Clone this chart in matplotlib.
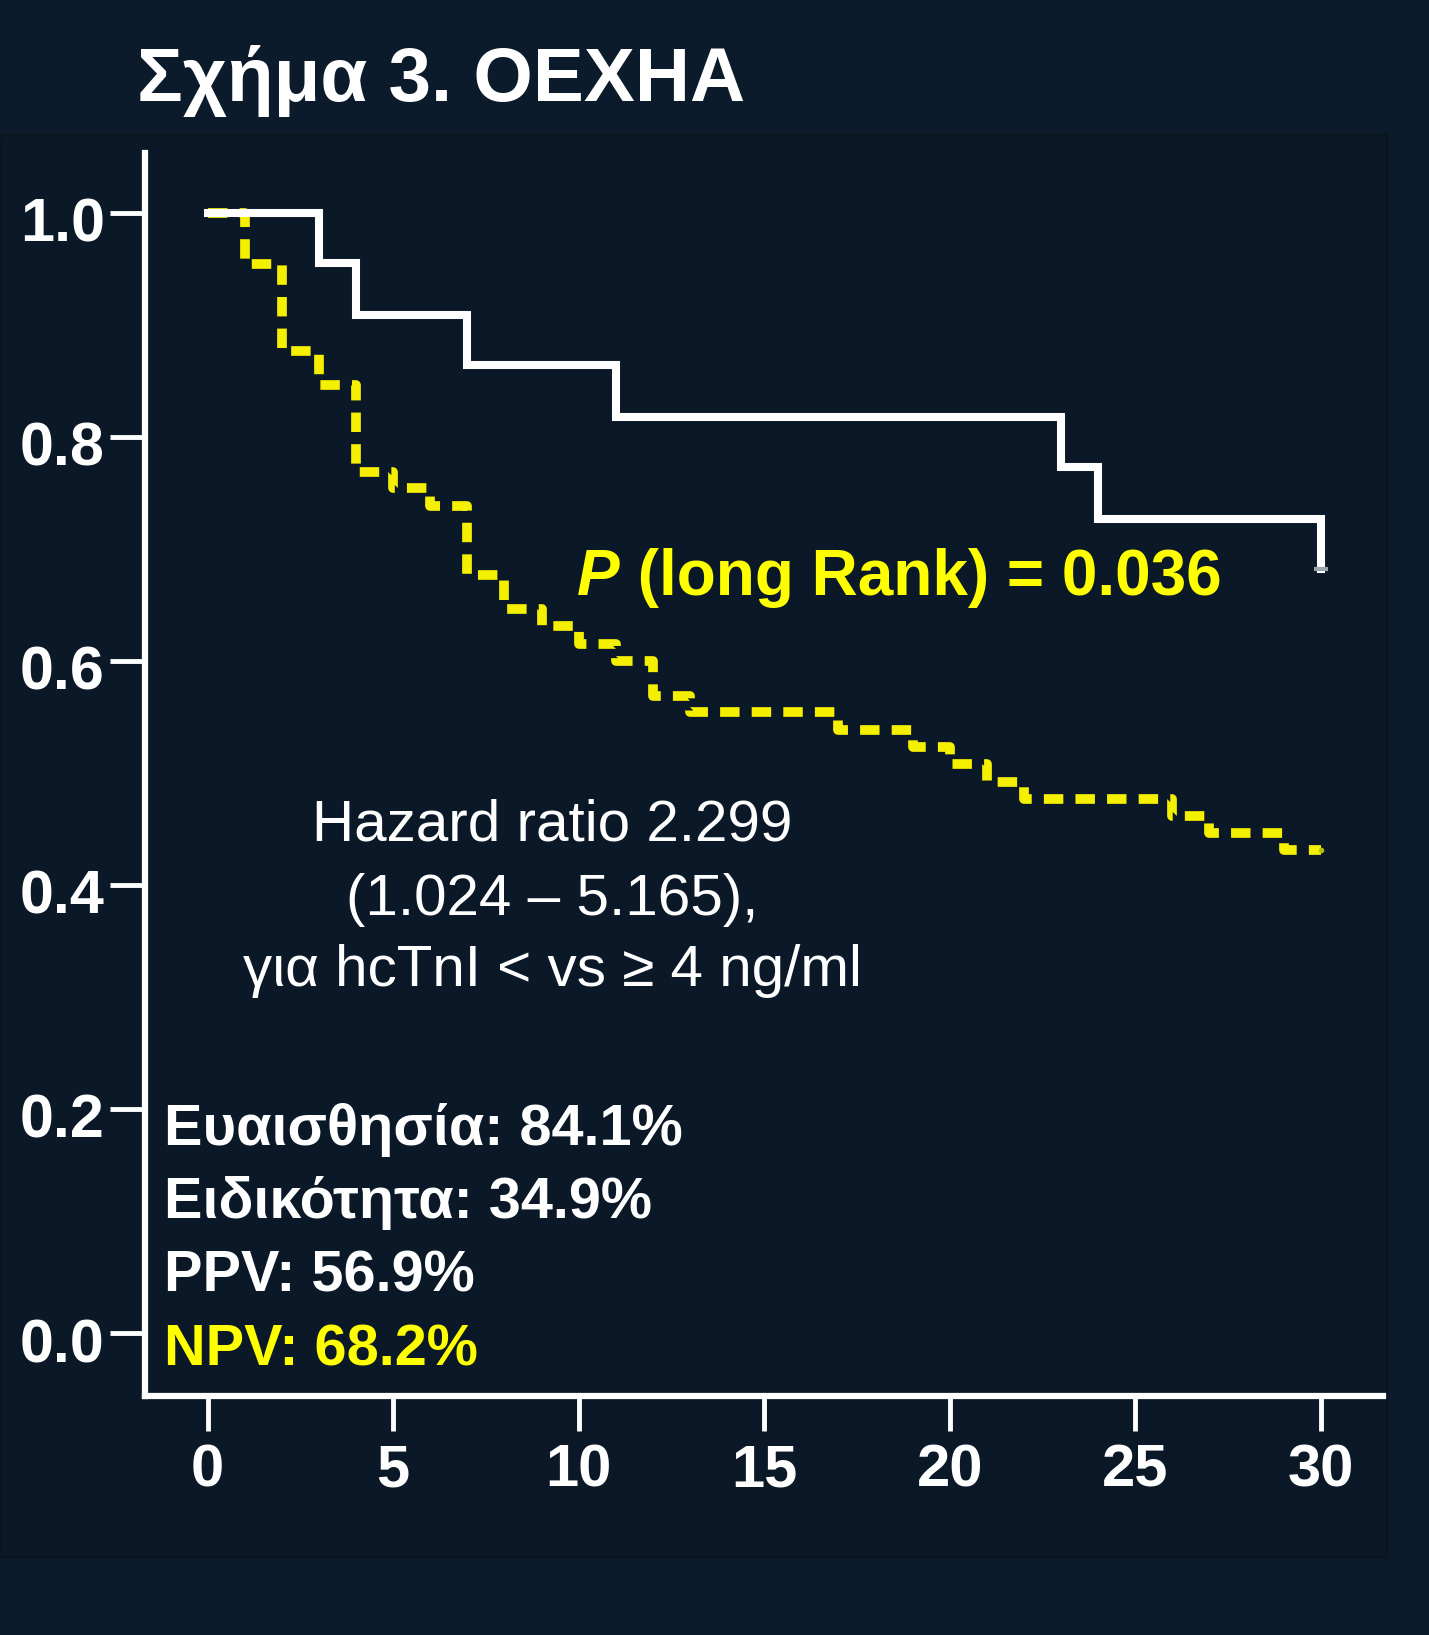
import matplotlib
matplotlib.use("Agg")
import matplotlib.pyplot as plt
from matplotlib.patches import Rectangle
from matplotlib.transforms import ScaledTranslation

plt.rcParams['font.family'] = ['Liberation Sans', 'DejaVu Sans']

# Kaplan-Meier curves (months, survival)
white_t = [0, 3, 4, 7, 11, 23, 24, 30]
white_s = [1.0, 0.955, 0.909, 0.864, 0.818, 0.773, 0.727, 0.682]

yellow_t = [0, 1, 2, 3, 4, 5, 6, 7, 8, 9, 10, 11, 12, 13, 17, 19, 20, 21, 22, 26, 27, 29, 30]
yellow_s = [1.0, 0.954, 0.877, 0.846, 0.769, 0.754, 0.738, 0.677, 0.646, 0.631, 0.615, 0.600,
            0.569, 0.554, 0.538, 0.523, 0.508, 0.492, 0.477, 0.462, 0.446, 0.431, 0.431]

xticks = [0, 5, 10, 15, 20, 25, 30]
yticks = [0.0, 0.2, 0.4, 0.6, 0.8, 1.0]

title = 'Σχήμα 3. ΟΕΧΗΑ'
p_label = 'P'
p_rest = ' (long Rank) = 0.036'
hr_lines = ['Hazard ratio 2.299', '(1.024 – 5.165),', 'για hcTnI < vs ≥ 4 ng/ml']
stat_lines = ['Ευαισθησία: 84.1%', 'Ειδικότητα: 34.9%', 'PPV: 56.9%', 'NPV: 68.2%']
stat_colors = ['white', 'white', 'white', '#ffff00']

BG = '#0c1b2b'
PANEL = '#0a1828'
YEL = '#f4f000'

W, H = 1429, 1635
fig = plt.figure(figsize=(W / 100, H / 100), dpi=100, facecolor=BG)
fig.patches.append(Rectangle((0, 1 - 1557 / H), 1387 / W, (1557 - 135) / H,
                             transform=fig.transFigure, fc=PANEL, ec='#09151f', lw=1.5,
                             zorder=-5))

ax = fig.add_axes([145 / W, 1 - 1396 / H, (1383 - 145) / W, (1396 - 153) / H])
ax.set_facecolor('none')
ax.set_xlim(-1.687, 31.68)
ax.set_ylim(-0.0562, 1.0534)

ax.step(white_t, white_s, where='post', color='white', lw=5.8, solid_joinstyle='miter', zorder=3)
ax.plot([30], [white_s[-1]], marker='_', ms=10, mew=3, color='#9aa4ad', zorder=4)
ax.step(yellow_t, yellow_s, where='post', color=YEL, lw=7,
        linestyle=(0, (2.0, 1.25)), dash_capstyle='butt', zorder=2)
ax.plot([30], [yellow_s[-1]], marker='o', ms=3, color='#b8c000', zorder=4)

for s in ['top', 'right']:
    ax.spines[s].set_visible(False)
for s in ['left', 'bottom']:
    ax.spines[s].set_color('white')
    ax.spines[s].set_linewidth(4.5)

ax.set_xticks(xticks)
ax.set_xticklabels([str(v) for v in xticks])
ax.set_yticks(yticks)
ax.set_yticklabels([f'{v:.1f}' for v in yticks])
ax.tick_params(axis='both', colors='white', length=25, width=3.5)
ax.tick_params(axis='x', pad=9, labelsize=43)
ax.tick_params(axis='y', pad=4, labelsize=44)
for lab in ax.get_xticklabels() + ax.get_yticklabels():
    lab.set_fontweight('bold')
# labels on the y axis sit a little below their ticks in the original
shift = ScaledTranslation(0, -0.07, fig.dpi_scale_trans)
for lab in ax.get_yticklabels():
    lab.set_transform(lab.get_transform() + shift)

fig.text(137 / W, 1 - 101 / H, title, color='white', fontsize=55, fontweight='bold', va='baseline')

p_txt = fig.text(577 / W, 1 - 595 / H, p_label, color='#ffff00', fontsize=46,
                 fontweight='bold', fontstyle='italic', va='baseline')
ax.annotate(p_rest, xy=(1, 0), xycoords=p_txt, va='bottom', ha='left',
            color='#ffff00', fontsize=46, fontweight='bold', annotation_clip=False)

for line, yb in zip(hr_lines, [840, 915, 986]):
    fig.text(552 / W, 1 - yb / H, line, color='white', fontsize=42, ha='center', va='baseline')

for line, col, yb in zip(stat_lines, stat_colors, [1145, 1218, 1291, 1365]):
    fig.text(164 / W, 1 - yb / H, line, color=col, fontsize=41.5, fontweight='bold', va='baseline')

fig.savefig('out.png', dpi=100, facecolor=BG)
